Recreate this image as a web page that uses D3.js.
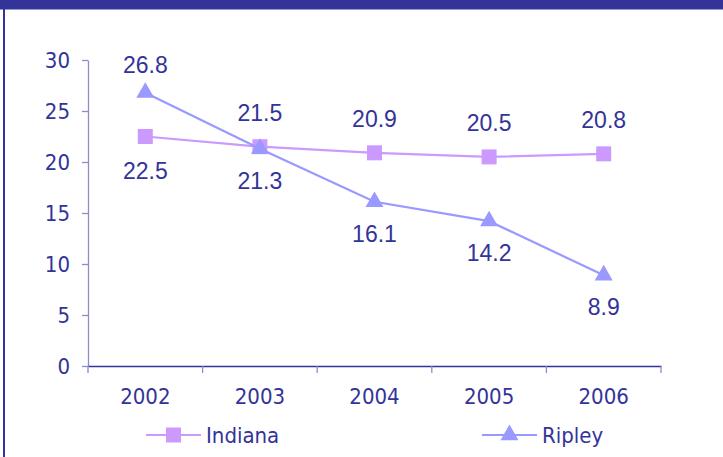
<!DOCTYPE html>
<html>
<head>
<meta charset="utf-8">
<script src="https://cdn.jsdelivr.net/npm/d3@7"></script>
<style>
body { margin: 0; background: #fff; }
svg { display: block; }
.tick text, .legend text { font-family: "DejaVu Sans Condensed", "DejaVu Sans", sans-serif; font-stretch: condensed; }
</style>
</head>
<body>
<script>
var years = ['2002', '2003', '2004', '2005', '2006'];
var indiana = [22.5, 21.5, 20.9, 20.5, 20.8];
var ripley = [26.8, 21.3, 16.1, 14.2, 8.9];
var indianaLabelPos = ['below', 'above', 'above', 'above', 'above'];
var ripleyLabelPos = ['above', 'below', 'below', 'below', 'below'];
var yTicks = [0, 5, 10, 15, 20, 25, 30];

var width = 723;
var height = 457;
var dark = '#333399';

var svg = d3.select('body')
    .append('svg')
    .attr('width', width)
    .attr('height', height)

// header band and left frame line
svg.append('rect')
    .attr('x', 0).attr('y', 0)
    .attr('width', width).attr('height', 9.5)
    .attr('fill', dark)
svg.append('line')
    .attr('x1', 4).attr('x2', 4)
    .attr('y1', 9).attr('y2', height)
    .attr('stroke', dark)
    .attr('stroke-width', 2)

var x = d3.scaleBand()
    .domain(years)
    .range([88, 661]);

var y = d3.scaleLinear()
    .domain([0, 30])
    .range([366, 60]);

// y axis
var yAxisGroup = svg.append('g')
    .attr('transform', 'translate(88,0)')
d3.axisLeft(y)
    .tickValues(yTicks)
    .tickSize(6)
    .tickSizeOuter(0)
    .tickPadding(12)(yAxisGroup)
yAxisGroup.selectAll('path, line').attr('stroke', '#8c8cc8').attr('stroke-width', 1.3)
yAxisGroup.selectAll('text')
    .attr('fill', dark)
    .style('font-size', '22px')

// x axis
var xAxisGroup = svg.append('g')
    .attr('transform', 'translate(0,' + y(0) + ')')
d3.axisBottom(x)
    .tickSize(0)
    .tickSizeOuter(0)
    .tickPadding(22)(xAxisGroup)
xAxisGroup.select('path').attr('stroke', dark).attr('stroke-width', 1.3)
xAxisGroup.selectAll('text')
    .attr('fill', dark)
    .style('font-size', '22px')

var bounds = years.map(d => x(d)).concat([x.range()[1]])
xAxisGroup.selectAll('.bound')
    .data(bounds)
    .enter()
    .append('line')
    .attr('x1', d => d).attr('x2', d => d)
    .attr('y1', 0).attr('y2', 7)
    .attr('stroke', '#8c8cc8')
    .attr('stroke-width', 1.3)

var cx = d => x(d) + x.bandwidth() / 2;

var square = d3.symbol().type(d3.symbolSquare).size(225);
var triangle = d3.symbol().type(d3.symbolTriangle).size(140);

plotSeries(indiana, '#cc99ff', square, indianaLabelPos, 34, 34);
plotSeries(ripley, '#9999ff', triangle, ripleyLabelPos, 28, 32);

function plotSeries(values, color, symbol, labelPos, upOff, downOff) {
    var pts = years.map((d, i) => ({ year: d, value: values[i], pos: labelPos[i] }));

    var line = d3.line()
        .x(d => cx(d.year))
        .y(d => y(d.value))

    svg.append('path')
        .datum(pts)
        .attr('fill', 'none')
        .attr('stroke', color)
        .attr('stroke-width', 2.2)
        .attr('d', line);

    svg.selectAll(null)
        .data(pts)
        .enter()
        .append('path')
        .attr('d', symbol)
        .attr('fill', color)
        .attr('transform', d => 'translate(' + cx(d.year) + ',' + y(d.value) + ')')

    svg.selectAll(null)
        .data(pts)
        .enter()
        .append('text')
        .attr('x', d => cx(d.year))
        .attr('y', d => y(d.value) + (d.pos == 'above' ? -upOff : downOff))
        .attr('text-anchor', 'middle')
        .attr('dominant-baseline', 'central')
        .attr('fill', dark)
        .style('font-family', '"Liberation Sans", Arial, sans-serif')
        .style('font-size', '23px')
        .text(d => d.value.toFixed(1))
}

// legend
var legendItems = [
    { name: 'Indiana', color: '#cc99ff', symbol: square, x: 146 },
    { name: 'Ripley', color: '#9999ff', symbol: triangle, x: 482 }
]
var legend = svg.append('g').attr('class', 'legend')
legendItems.forEach(item => {
    var g = legend.append('g').attr('transform', 'translate(' + item.x + ',435)')
    g.append('line')
        .attr('x1', 0).attr('x2', 55)
        .attr('stroke', item.color)
        .attr('stroke-width', 2.2)
    g.append('path')
        .attr('d', item.symbol)
        .attr('fill', item.color)
        .attr('transform', 'translate(27.5,0)')
    g.append('text')
        .attr('x', 60)
        .attr('dominant-baseline', 'central')
        .attr('fill', dark)
        .style('font-size', '22px')
        .text(item.name)
})
</script>
</body>
</html>
